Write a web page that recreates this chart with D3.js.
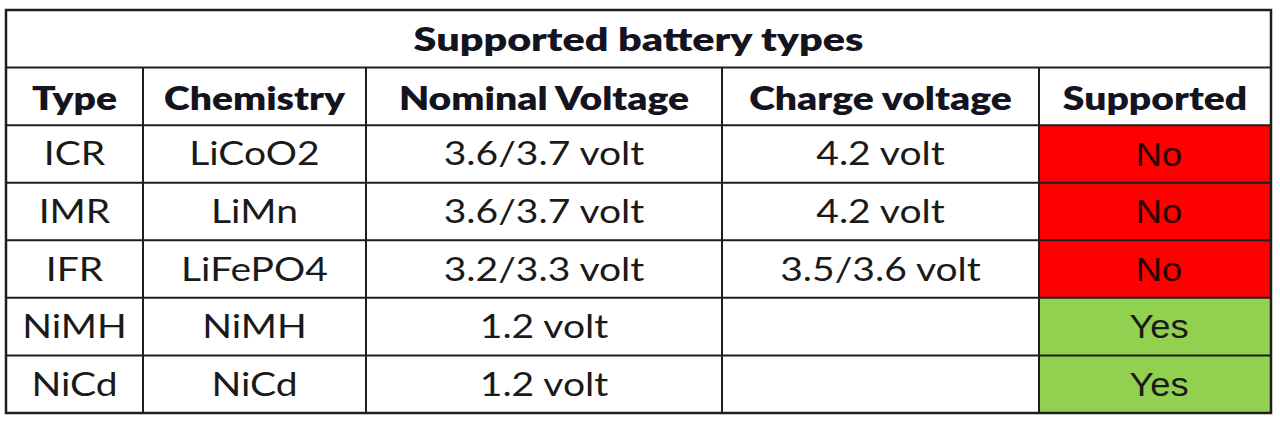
<!DOCTYPE html>
<html>
<head>
<meta charset="utf-8">
<script src="https://cdn.jsdelivr.net/npm/d3@7"></script>
<style>
  html, body { margin: 0; padding: 0; background: #fff; }
  svg { display: block; }
</style>
</head>
<body>
<script>
// table content
const title = "Supported battery types";
const headers = ["Type", "Chemistry", "Nominal Voltage", "Charge voltage", "Supported"];
const types = ["ICR", "IMR", "IFR", "NiMH", "NiCd"];
const chemistry = ["LiCoO2", "LiMn", "LiFePO4", "NiMH", "NiCd"];
const nominal = ["3.6/3.7 volt", "3.6/3.7 volt", "3.2/3.3 volt", "1.2 volt", "1.2 volt"];
const charge = ["4.2 volt", "4.2 volt", "3.5/3.6 volt", "", ""];
const supported = ["No", "No", "No", "Yes", "Yes"];

const w = 1280, h = 422;
// column boundaries (layout)
const colEdges = [6, 143, 366, 722, 1039, 1271];
const stretch = 1.22;   // picture is widened horizontally
const fs = 32;

const svg = d3.select('body').append('svg').attr('width', w).attr('height', h);

// row scale: title, header, then one per battery
const rowKeys = ["title", "header"].concat(types);
const yScale = d3.scaleBand().domain(rowKeys).range([10, 413]);

const colX = i => colEdges[i];
const colMid = i => (colEdges[i] + colEdges[i + 1]) / 2;

const rows = types.map((t, i) => ({
  key: t,
  cells: [t, chemistry[i], nominal[i], charge[i], supported[i]],
  ok: supported[i] === "Yes"
}));

// supported cell fills
svg.selectAll('rect.fill').data(rows).enter().append('rect')
  .attr('class', 'fill')
  .attr('x', colX(4)).attr('y', d => yScale(d.key))
  .attr('width', colEdges[5] - colEdges[4]).attr('height', yScale.bandwidth())
  .attr('fill', d => d.ok ? '#92d050' : '#ff0000');

function addText(x, cy, txt, opts) {
  const f = opts.font || 'Lato';
  const size = opts.size || fs;
  const cap = (opts.cap || 0.72) * size;
  svg.append('text')
    .attr('transform', 'translate(' + x + ',' + (cy + cap / 2 + (opts.dy || 0)) + ') scale(' + (opts.sx || stretch) + ',1)')
    .attr('text-anchor', 'middle')
    .style('font-family', f)
    .style('font-size', size + 'px')
    .style('font-weight', opts.bold ? 800 : 400)
    .attr('fill', opts.color || '#1a1a1a')
    .text(txt);
}

const mid = k => yScale(k) + yScale.bandwidth() / 2;

addText((colEdges[0] + colEdges[5]) / 2, mid('title'), title, {bold: true, color: '#141420', sx: 1.29, dy: 1});
headers.forEach((hd, i) => addText(colMid(i), mid('header'), hd, {bold: true, color: '#141420', dy: 2}));

rows.forEach(r => {
  r.cells.forEach((c, i) => {
    if (!c) return;
    if (i === 4) {
      addText(colMid(i) + 4, mid(r.key), c, {font: 'Liberation Sans', size: 33, cap: 0.716, sx: 1.1,
        color: r.ok ? '#1a1a1a' : '#2a0000'});
    } else {
      addText(colMid(i), mid(r.key), c, {});
    }
  });
});

// grid lines
const grid = svg.append('g').attr('stroke', '#1e1e1e').attr('stroke-width', 2).attr('fill', 'none');
grid.selectAll('line.h').data(rowKeys.slice(1)).enter().append('line')
  .attr('x1', colEdges[0]).attr('x2', colEdges[5])
  .attr('y1', d => yScale(d)).attr('y2', d => yScale(d));
grid.selectAll('line.v').data(colEdges.slice(1, -1)).enter().append('line')
  .attr('x1', d => d).attr('x2', d => d)
  .attr('y1', yScale('header')).attr('y2', yScale.range()[1]);
grid.append('rect')
  .attr('x', colEdges[0]).attr('y', yScale.range()[0])
  .attr('width', colEdges[5] - colEdges[0]).attr('height', yScale.range()[1] - yScale.range()[0])
  .attr('stroke-width', 2.5);
</script>
</body>
</html>
